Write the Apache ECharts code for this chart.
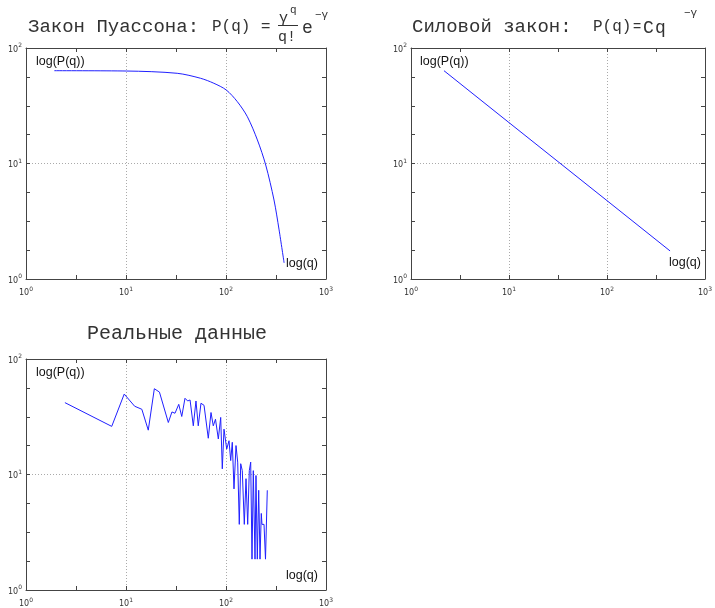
<!DOCTYPE html>
<html><head><meta charset="utf-8">
<script src="https://cdn.jsdelivr.net/npm/echarts@6/dist/echarts.min.js"></script>
<style>html,body{margin:0;padding:0;background:#fff}#c{width:715px;height:608px}</style>
</head><body><div id="c"></div>
<script>
// Tick exponents (labels are 10^exp)
const xTickExp = [0, 1, 2, 3];
const yTickExp = [0, 1, 2];

// Panel 1: Poisson law (q, P(q))
const poissonQ = [1.92, 10.1, 32.5, 55.6, 75.6, 100.6, 129.8, 163.6, 206, 249.6, 302, 339.6, 381];
const poissonP = [63.6, 63.2, 60.4, 54.7, 49.5, 43.3, 34.3, 25.4, 16.0, 9.7, 4.83, 2.66, 1.38];

// Panel 2: power law
const powerQ = [2.17, 10, 100, 440];
const powerP = [63.6, 22.6, 4.77, 1.75];

// Panel 3: real data
const realQ = [2.45, 7.2, 9.6, 12.2, 14.4, 16.7, 19.2, 21.6, 26.5, 28.8, 30.9, 33.7, 36.1, 38.9, 41.4, 43.7, 47.1, 50.1, 52.8, 56.2, 60.3, 66.5, 70.8, 74.6, 78.5, 83.8, 88.5, 91.8, 95.5, 101.6, 107.2, 111.4, 115.6, 120.2, 125.9, 130.9, 135.8, 140.3, 145.5, 152.4, 158.5, 164.8, 171, 176.6, 182, 187.5, 195, 199.5, 205.6, 212.3, 218.8, 225.4, 229, 240, 248.3, 258.8];
const realP = [41.9, 26.1, 49.7, 39.0, 36.7, 24.2, 55.3, 51.7, 28.2, 34.8, 33.9, 40.5, 31.8, 45.7, 43.3, 44.2, 26.4, 43.3, 26.4, 41.4, 39.7, 20.6, 34.4, 26.4, 30.1, 20.3, 31.2, 11.2, 24.7, 16.6, 19.6, 13.2, 19.0, 7.5, 17.8, 12.8, 3.7, 12.4, 10.8, 3.7, 9.2, 3.7, 10.8, 12.8, 1.85, 10.8, 1.85, 9.8, 1.85, 7.3, 1.85, 4.6, 3.7, 3.7, 1.85, 7.3];

const toLog = (qs, ps) => qs.map((q, i) => [Math.log10(q), Math.log10(ps[i])]);

const chart = echarts.init(document.getElementById('c'), null, {renderer: 'canvas'});

const grids = [
  {left: 26, top: 48, width: 300, height: 231},
  {left: 411, top: 48, width: 297, height: 231},
  {left: 26, top: 359, width: 300, height: 233}
];
const axisColor = '#444';
const labelRich = {
  b: {fontSize: 8, fontFamily: 'DejaVu Sans', color: '#333', lineHeight: 11, verticalAlign: 'bottom'},
  s: {fontSize: 6, fontFamily: 'DejaVu Sans', color: '#333', lineHeight: 6, verticalAlign: 'top'}
};
const fmt = v => {
  const e = Math.round(v);
  if (Math.abs(v - e) > 1e-6) return '';
  return '{b|10}{s|' + e + '}';
};
const xMax = xTickExp[xTickExp.length - 1], yMax = yTickExp[yTickExp.length - 1];

const xAxes = [], yAxes = [];
grids.forEach((g, i) => {
  ['bottom', 'top'].forEach(pos => {
    xAxes.push({
      gridIndex: i, type: 'value', min: xTickExp[0], max: xMax, interval: 1, position: pos,
      axisLine: {show: true, onZero: false, lineStyle: {color: axisColor, width: 1}},
      axisTick: {show: true, inside: true, length: 4, lineStyle: {color: axisColor}},
      minorTick: {show: true, splitNumber: 2, length: 4, lineStyle: {color: axisColor}},
      axisLabel: {show: pos === 'bottom', formatter: fmt, rich: labelRich, margin: 7, hideOverlap: false, showMinLabel: true, showMaxLabel: true},
      splitLine: {show: pos === 'bottom', lineStyle: {type: [1, 2], color: '#aaa', width: 1}}
    });
  });
  ['left', 'right'].forEach(pos => {
    yAxes.push({
      gridIndex: i, type: 'value', min: yTickExp[0], max: yMax, interval: 1, position: pos,
      axisLine: {show: true, onZero: false, lineStyle: {color: axisColor, width: 1}},
      axisTick: {show: true, inside: true, length: 4, lineStyle: {color: axisColor}},
      minorTick: {show: true, splitNumber: 4, length: 4, lineStyle: {color: axisColor}},
      axisLabel: {show: pos === 'left', formatter: fmt, rich: labelRich, margin: 4, hideOverlap: false, showMinLabel: true, showMaxLabel: true},
      splitLine: {show: pos === 'left', lineStyle: {type: [1, 2], color: '#aaa', width: 1}}
    });
  });
});

const lineStyle = {color: '#2020ff', width: 1};
const series = [
  {type: 'line', xAxisIndex: 0, yAxisIndex: 0, data: toLog(poissonQ, poissonP), smooth: 0.3, showSymbol: false, lineStyle, silent: true},
  {type: 'line', xAxisIndex: 2, yAxisIndex: 2, data: toLog(powerQ, powerP), showSymbol: false, lineStyle, silent: true},
  {type: 'line', xAxisIndex: 4, yAxisIndex: 4, data: toLog(realQ, realP), showSymbol: false, lineStyle, silent: true}
];

const mono = '"Liberation Mono", "DejaVu Sans Mono", monospace';
const sans = '"Liberation Sans", Arial, sans-serif';
const T = (text, x, y, size, family, fill) => ({
  type: 'text', x, y, silent: true,
  style: {text, font: size + 'px ' + (family || mono), fill: fill || '#333', textAlign: 'left', textVerticalAlign: 'middle', align: 'left', verticalAlign: 'middle'}
});

const graphic = [
  // Title 1
  T('Закон Пуассона:', 28, 27, 19),
  T('P(q)', 212, 27, 16),
  T('=', 261, 27, 16, sans),
  T('γ', 279, 18, 15),
  T('q', 290, 10, 11),
  {type: 'line', silent: true, shape: {x1: 278, y1: 25.5, x2: 298, y2: 25.5}, style: {stroke: '#333', lineWidth: 1}},
  T('q!', 278, 37, 15),
  T('e', 302, 28, 18),
  T('−γ', 315, 15, 11),
  // Title 2
  T('Силовой закон:', 412, 27, 19),
  T('P(q)', 593, 27, 16),
  T('=', 633, 27, 14, sans),
  T('C', 643, 28, 18),
  T('q', 655, 28, 18),
  T('−γ', 684, 13, 11),
  // Title 3
  T('Реальные данные', 87, 334, 20),
  // annotations
  T('log(P(q))', 36, 62, 12.5, sans, '#111'),
  T('log(q)', 286, 264, 12.5, sans, '#111'),
  T('log(P(q))', 420, 62, 12.5, sans, '#111'),
  T('log(q)', 669, 263, 12.5, sans, '#111'),
  T('log(P(q))', 36, 373, 12.5, sans, '#111'),
  T('log(q)', 286, 576, 12.5, sans, '#111')
];

chart.setOption({
  animation: false,
  backgroundColor: '#fff',
  grid: grids.map(g => Object.assign({containLabel: false}, g)),
  xAxis: xAxes,
  yAxis: yAxes,
  series,
  graphic
});
</script>
</body></html>
